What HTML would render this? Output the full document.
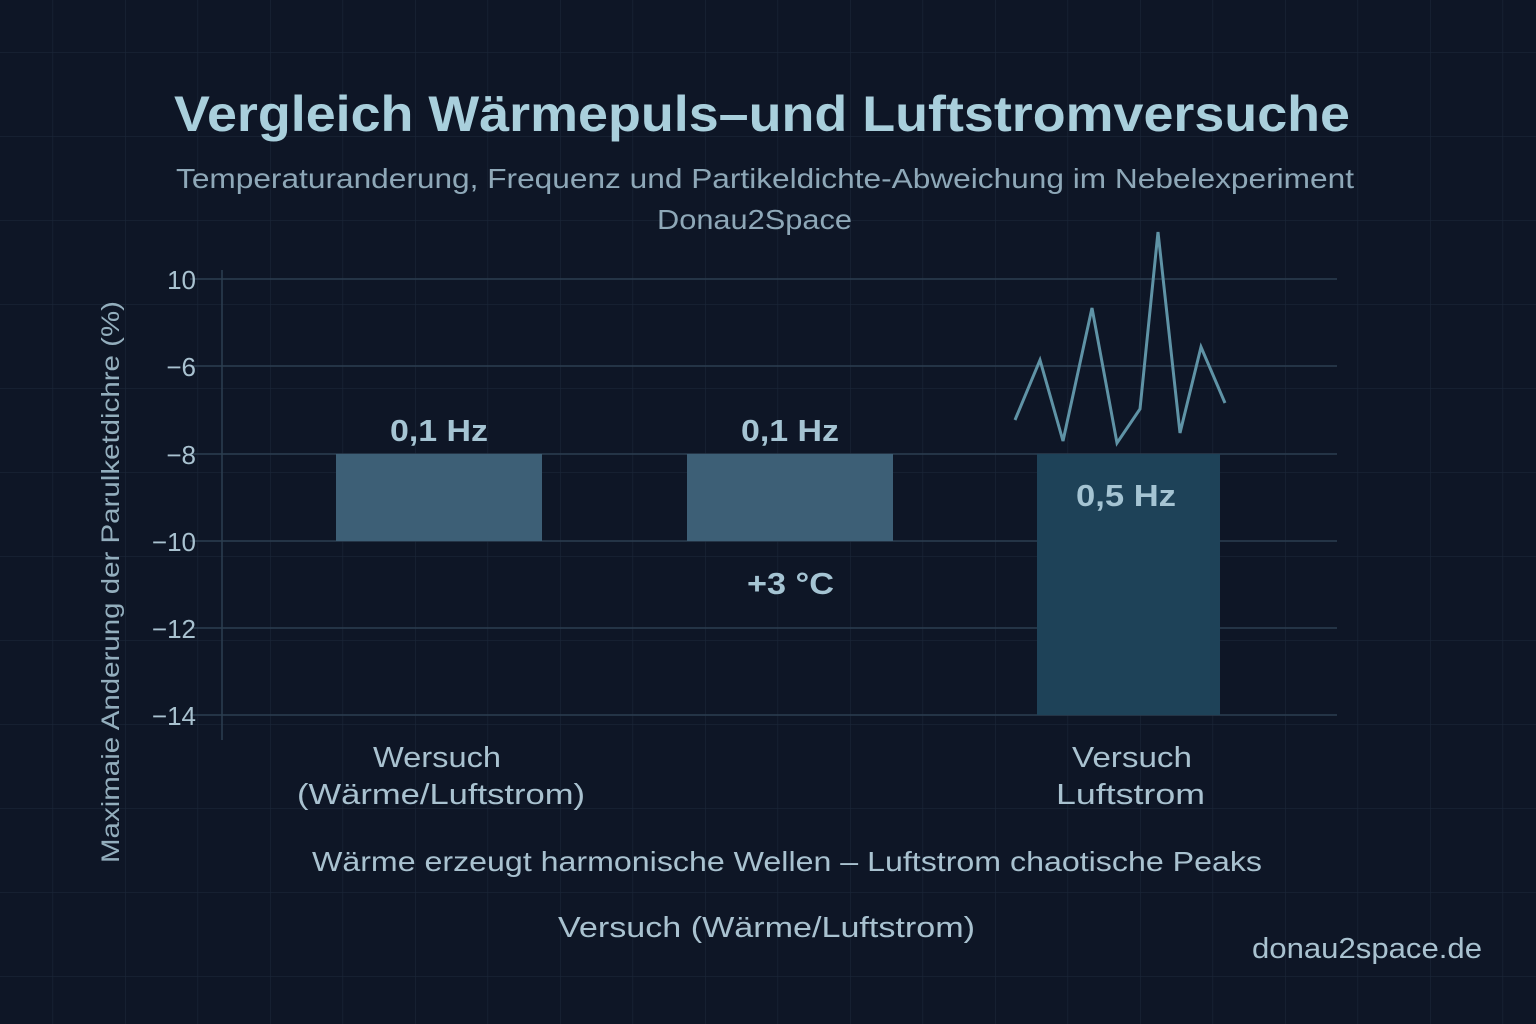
<!DOCTYPE html>
<html><head><meta charset="utf-8"><style>
html,body{margin:0;padding:0;background:#0e1626;}
svg{display:block;font-family:"Liberation Sans",sans-serif;}
</style></head><body>
<svg width="1536" height="1024" viewBox="0 0 1536 1024" xmlns="http://www.w3.org/2000/svg">
<defs>
<pattern id="g" x="-20" y="-32" width="72.5" height="84" patternUnits="userSpaceOnUse">
<path d="M0 0V84M0 0H72.5" stroke="#1a2638" stroke-width="1.2" fill="none"/>
</pattern>
</defs>
<rect width="1536" height="1024" fill="#0e1626"/>
<rect width="1536" height="1024" fill="url(#g)"/>
<text x="174" y="131" font-size="50" font-weight="bold" fill="#a9cfdc" textLength="1176" lengthAdjust="spacingAndGlyphs">Vergleich Wärmepuls–und Luftstromversuche</text>
<text x="176" y="188" font-size="28" fill="#8ea8b8" textLength="1178" lengthAdjust="spacingAndGlyphs">Temperaturanderung, Frequenz und Partikeldichte-Abweichung im Nebelexperiment</text>
<text x="657" y="229" font-size="28" fill="#8ea8b8" textLength="195" lengthAdjust="spacingAndGlyphs">Donau2Space</text>
<g stroke="#2c3e50" stroke-width="1.5">
<line x1="190" y1="279" x2="1337" y2="279"/>
<line x1="190" y1="366" x2="1337" y2="366"/>
<line x1="190" y1="454" x2="1337" y2="454"/>
<line x1="190" y1="541" x2="1337" y2="541"/>
<line x1="190" y1="628" x2="1337" y2="628"/>
<line x1="190" y1="715" x2="1337" y2="715"/>
<line x1="222" y1="270" x2="222" y2="740"/>
</g>
<g font-size="26" fill="#a9c2d0" text-anchor="end">
<text x="196" y="289">10</text>
<text x="196" y="376">−6</text>
<text x="196" y="464">−8</text>
<text x="196" y="551">−10</text>
<text x="196" y="638">−12</text>
<text x="196" y="725">−14</text>
</g>
<text transform="translate(119,582) rotate(-90)" font-size="25" fill="#93aebd" text-anchor="middle" textLength="562" lengthAdjust="spacingAndGlyphs">Maximaie Anderung der Parulketdichre (%)</text>
<rect x="336" y="454" width="206" height="87" fill="#3d5f76"/>
<rect x="687" y="454" width="206" height="87" fill="#3d5f76"/>
<rect x="1037" y="454" width="183" height="261" fill="#1e4258"/>
<g font-size="31" font-weight="bold" fill="#a5c4d3">
<text x="390" y="441" textLength="98" lengthAdjust="spacingAndGlyphs">0,1 Hz</text>
<text x="741" y="441" textLength="98" lengthAdjust="spacingAndGlyphs">0,1 Hz</text>
<text x="1076" y="506" textLength="100" lengthAdjust="spacingAndGlyphs">0,5 Hz</text>
<text x="747" y="594" textLength="87" lengthAdjust="spacingAndGlyphs">+3 °C</text>
</g>
<polyline points="1015,420 1040,360 1063,441 1092,308 1117,443 1140,409 1158,232 1180,433 1201,347 1225,403" fill="none" stroke="#5f93a6" stroke-width="3" stroke-linejoin="miter"/>
<g font-size="29" fill="#a9c2d0">
<text x="373" y="767" textLength="128" lengthAdjust="spacingAndGlyphs">Wersuch</text>
<text x="297" y="804" textLength="288" lengthAdjust="spacingAndGlyphs">(Wärme/Luftstrom)</text>
<text x="1072" y="767" textLength="120" lengthAdjust="spacingAndGlyphs">Versuch</text>
<text x="1056" y="804" textLength="149" lengthAdjust="spacingAndGlyphs">Luftstrom</text>
<text x="312" y="871" font-size="28" textLength="950" lengthAdjust="spacingAndGlyphs">Wärme erzeugt harmonische Wellen – Luftstrom chaotische Peaks</text>
<text x="558" y="937" textLength="417" lengthAdjust="spacingAndGlyphs">Versuch (Wärme/Luftstrom)</text>
<text x="1252" y="958" textLength="230" lengthAdjust="spacingAndGlyphs">donau2space.de</text>
</g>
</svg>
</body></html>
